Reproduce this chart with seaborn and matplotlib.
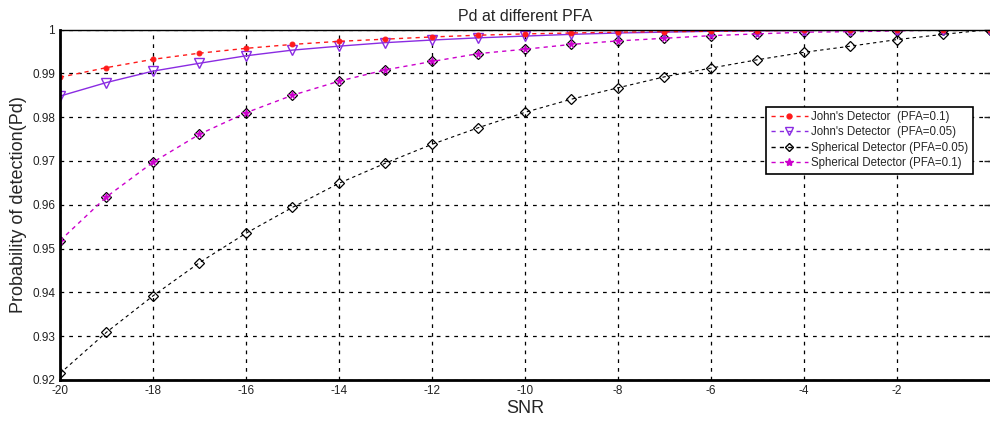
import matplotlib
matplotlib.use("Agg")
import matplotlib.pyplot as plt
import seaborn as sns
import pandas as pd
from matplotlib.lines import Line2D

snr = list(range(-20, 1))

johns_pfa01 = [0.9891, 0.9913, 0.9932, 0.9946, 0.9957, 0.9966, 0.9973, 0.9978,
               0.9983, 0.9987, 0.9990, 0.9992, 0.9994, 0.9995, 0.9996, 0.9997,
               0.9998, 0.9999, 0.9999, 1.0, 1.0]
johns_pfa005 = [0.9848, 0.9879, 0.9905, 0.9923, 0.9940, 0.9953, 0.9962, 0.9970,
                0.9976, 0.9981, 0.9985, 0.9989, 0.9992, 0.9994, 0.9996, 0.9997,
                0.9998, 0.9999, 0.9999, 1.0, 1.0]
spher_pfa005 = [0.9215, 0.9309, 0.9392, 0.9468, 0.9535, 0.9594, 0.9649, 0.9695,
                0.9738, 0.9776, 0.9811, 0.9841, 0.9867, 0.9892, 0.9912, 0.9931,
                0.9948, 0.9962, 0.9977, 0.9989, 1.0]
spher_pfa01 = [0.9518, 0.9618, 0.9697, 0.9761, 0.9810, 0.9850, 0.9882, 0.9908,
               0.9927, 0.9945, 0.9955, 0.9966, 0.9974, 0.9980, 0.9986, 0.9990,
               0.9994, 0.9995, 0.9997, 0.9999, 1.0]

labels = ["John's Detector  (PFA=0.1)", "John's Detector  (PFA=0.05)",
          "Spherical Detector (PFA=0.05)", "Spherical Detector (PFA=0.1)"]

sns.set_style("white")
plt.rcParams['font.family'] = ['Liberation Sans', 'DejaVu Sans']
plt.rcParams['axes.unicode_minus'] = False

fig = plt.figure(figsize=(9.9, 4.21), dpi=100)
ax = fig.add_axes([0.0606, 0.0974, 0.9394, 0.8325])

df = pd.DataFrame({'SNR': snr, 'j01': johns_pfa01, 'j005': johns_pfa005,
                   's005': spher_pfa005, 's01': spher_pfa01})

red = '#ff1a1a'
purple = '#8a2be2'
magenta = '#cc00cc'

sns.lineplot(data=df, x='SNR', y='s005', ax=ax, color='black', lw=0.8,
             linestyle=(0, (3, 3)), marker='D', markersize=5,
             markerfacecolor='none', markeredgecolor='black', markeredgewidth=0.9)
# diamonds sitting under the magenta stars
sns.lineplot(data=df, x='SNR', y='s01', ax=ax, color='black', lw=0,
             marker='D', markersize=5, markerfacecolor='none',
             markeredgecolor='black', markeredgewidth=0.9)
sns.lineplot(data=df, x='SNR', y='s01', ax=ax, color=magenta, lw=1.0,
             linestyle=(0, (3, 3)), marker='*', markersize=5.5,
             markerfacecolor=magenta, markeredgecolor=magenta)
sns.lineplot(data=df, x='SNR', y='j005', ax=ax, color=purple, lw=1.0,
             marker='v', markersize=7, markerfacecolor='none',
             markeredgecolor=purple, markeredgewidth=1.0)
sns.lineplot(data=df, x='SNR', y='j01', ax=ax, color=red, lw=1.0,
             linestyle=(0, (3, 3)), marker='o', markersize=3.5,
             markerfacecolor=red, markeredgecolor=red)

ax.set_xlim(-20, 0)
ax.set_ylim(0.92, 1.0)
ax.set_xticks(range(-20, 0, 2))
ax.set_yticks([0.92, 0.93, 0.94, 0.95, 0.96, 0.97, 0.98, 0.99, 1.0])
ax.set_yticklabels(['0.92', '0.93', '0.94', '0.95', '0.96', '0.97', '0.98', '0.99', '1'])
ax.tick_params(axis='both', labelsize=8.5, colors='#222222', direction='in',
               length=4, width=1, top=False, right=True)
ax.grid(True, color='black', linestyle=(0, (3, 4)), linewidth=0.9)

for side in ['left', 'bottom']:
    ax.spines[side].set_linewidth(2)
    ax.spines[side].set_color('black')
ax.spines['top'].set_linewidth(1)
ax.spines['top'].set_color('black')
ax.spines['right'].set_visible(False)

ax.set_title('Pd at different PFA', fontsize=11.5, pad=6)
ax.set_xlabel('SNR', fontsize=13, labelpad=2)
ax.set_ylabel('Probability of detection(Pd)', fontsize=13, labelpad=4)

handles = [
    Line2D([], [], color=red, ls=(0, (3, 3)), lw=1, marker='o', ms=3.5, mfc=red, mec=red),
    Line2D([], [], color=purple, ls=(0, (3, 3)), lw=1, marker='v', ms=6, mfc='none', mec=purple),
    Line2D([], [], color='black', ls=(0, (3, 3)), lw=1, marker='D', ms=4.5, mfc='none', mec='black'),
    Line2D([], [], color=magenta, ls=(0, (3, 3)), lw=1, marker='*', ms=6, mfc=magenta, mec=magenta),
]
leg = ax.legend(handles, labels, loc='upper left', bbox_to_anchor=(0.7595, 0.78),
                fontsize=8.3, frameon=True, fancybox=False, framealpha=1,
                edgecolor='black', handlelength=3.2, handletextpad=0.3,
                borderpad=0.4, labelspacing=0.28, borderaxespad=0)
leg.get_frame().set_linewidth(1.2)

fig.savefig('out.png', dpi=100)
